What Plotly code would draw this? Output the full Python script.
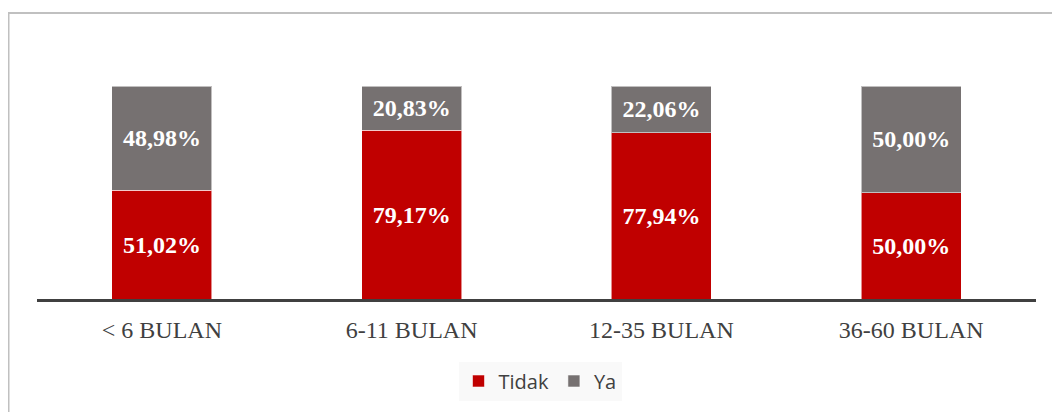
import plotly.graph_objects as go

categories = ["< 6 BULAN", "6-11 BULAN", "12-35 BULAN", "36-60 BULAN"]
tidak = [51.02, 79.17, 77.94, 50.00]
ya = [48.98, 20.83, 22.06, 50.00]


def fmt(v):
    return f"{v:.2f}".replace(".", ",") + "%"


fig = go.Figure()
for name, vals, color in [("Tidak", tidak, "#C00000"), ("Ya", ya, "#767171")]:
    fig.add_trace(go.Bar(
        name=name, x=categories, y=vals,
        text=[fmt(v) for v in vals], textposition="inside",
        insidetextanchor="middle", constraintext="none",
        textfont=dict(family="Liberation Serif", size=24, color="white", weight="bold"),
        marker=dict(color=color, line=dict(color="rgba(255,255,255,0.55)", width=1)),
        hoverinfo="skip",
    ))

# page body has an 8px margin; figure coordinates are screen - 8
W, H = 1052, 404
L, R, T, B = 29, 24, 78, 113
pw, ph = W - L - R, H - T - B

fig.update_layout(
    barmode="stack", bargap=0.6,
    width=W, height=H,
    margin=dict(l=L, r=R, t=T, b=B, pad=0),
    paper_bgcolor="white", plot_bgcolor="white",
    xaxis=dict(showline=True, linecolor="#404040", linewidth=3, showgrid=False,
               ticks="", ticklabelstandoff=7,
               tickfont=dict(family="Liberation Serif", size=24, color="#404040")),
    yaxis=dict(range=[0, 100], visible=False, showgrid=False),
    legend=dict(orientation="h", x=(532 - L) / pw, xanchor="center",
                y=(H - B - 373) / ph, yanchor="middle",
                bgcolor="#f9f9f9",
                font=dict(family="Open Sans", size=20, color="#404040"),
                itemwidth=30, traceorder="normal"),
    showlegend=True,
    shapes=[dict(type="rect", xref="paper", yref="paper",
                 x0=(0.5 - L) / pw, x1=(1070 - L) / pw,
                 y0=(H - B - 430) / ph, y1=(H - B - 5) / ph,
                 line=dict(color="#c0c0c0", width=2), layer="below")],
)

fig.write_html("out.html")
